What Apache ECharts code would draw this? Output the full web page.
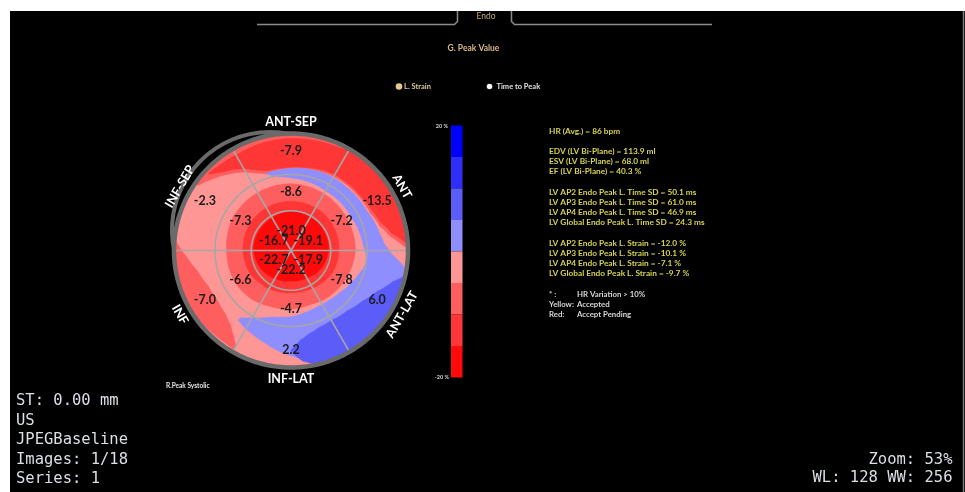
<!DOCTYPE html>
<html>
<head>
<meta charset="utf-8">
<script src="https://cdn.jsdelivr.net/npm/echarts@6/dist/echarts.min.js"></script>
<style>
  html, body { margin: 0; padding: 0; background: #ffffff; }
  #chart { width: 965px; height: 492px; }
</style>
</head>
<body>
<div id="chart"></div>
<script>
// Bull's-eye segments, angles anticlockwise from 3 o'clock (degrees)
const segmentNames = ['ANT-SEP', 'ANT', 'ANT-LAT', 'INF-LAT', 'INF', 'INF-SEP'];
const segmentAngles = [90, 30, 330, 270, 210, 150];

// Peak longitudinal strain per segment (%)
const basalStrain  = [-7.9, -13.5, 6.0, 2.2, -7.0, -2.3];
const midStrain    = [-8.6, -7.2, -7.8, -4.7, -6.6, -7.3];
const apicalStrain = [-21.0, -19.1, -17.9, -22.2, -22.7, -16.7];

// Ring boundaries (% of map radius) and segment spokes (degrees)
const ringBounds = [34, 65];
const spokeAngles = [0, 60, 120, 180, 240, 300];

// Strain colour scale, top to bottom
const scaleBins = [
  { min: 15, max: 20, color: '#0000ff' },
  { min: 10, max: 15, color: '#2e2ef8' },
  { min: 5, max: 10, color: '#5c5cf8' },
  { min: 0, max: 5, color: '#8e8eff' },
  { min: -5, max: 0, color: '#ff9696' },
  { min: -10, max: -5, color: '#ff5e5e' },
  { min: -15, max: -10, color: '#ff3636' },
  { min: -20, max: -15, color: '#ff0a0a' }
];
const scaleTicks = ['20 %', '-20 %'];

// Strain-field contour bands. Each sample is [angle°, inner radius %, outer radius %];
// bands are painted in order, later bands over earlier ones.
const wholeMap       = [[0, 0, 100], [360, 0, 100]];
const coreSalmon     = [[0,0,55],[30,0,55],[60,0,56],[90,0,57],[120,0,57],[150,0,57],[180,0,55],[210,0,55],
                        [230,0,53.5],[250,0,51],[270,0,50],[290,0,49],[310,0,51],[330,0,52.5],[360,0,55]];
const coreRed        = [[0,0,41],[45,0,42],[90,0,42],[135,0,42],[180,0,41],[210,0,40],[240,0,37.5],
                        [270,0,36],[300,0,37],[330,0,40],[360,0,41]];
const coreDeep       = [[0,0,32],[45,0,33],[90,0,33],[135,0,32],[180,0,32],[210,0,30],[240,0,27.5],
                        [270,0,26],[300,0,27],[330,0,30],[360,0,32]];
const anteriorHalo   = [[2,97,100],[8,86,100],[15,79,100],[25,75,100],[40,74,100],[60,73,100],[80,71,100],
                        [100,69.5,100],[108,69,100],[115,73,100],[122,79,100],[130,85,100],[138,91,100],[145,97,100]];
const anteriorRed    = [[3.5,99,100],[10,87,100],[18,80,100],[28,77,100],[40,75.5,100],[55,75,100],[65,74.5,97],
                        [80,72,96],[95,71,95.5],[106,71,95],[112,74,94.5],[118,79,94],[124,84,94.5],[130,88,95],
                        [134,92,96],[137,95.5,96.5]];
const lateralCrescent = [[108,68.5,69],[104,66,69.5],[100,64,69.5],[90,62,70],[80,61,71],[70,60,71.5],[60,59,72],
                        [50,59,72],[40,59,72.5],[28,59,73],[20,60,75],[11,61,77],[4,62,80],[-2,64,86],[-8,65,97],
                        [-13,64,100],[-20,61,100],[-30,58,100],[-41,55,100],[-53,53.5,100],[-65,53,100],[-78,54.5,96],
                        [-88,56.5,91],[-98,57.5,86],[-106,59,82],[-114,63,79],[-121,67,77],[-127,72,74.5]];
const lateralPatch   = [[-13,99,100],[-17,91,100],[-26,81,100],[-35,75,100],[-47,70.5,100],[-60,69,100],
                        [-70,70,100],[-78,73,99],[-84,77,95],[-88,82,89],[-90,85,86]];
const inferiorStripe = [[176,98,100],[183,90,100],[192,82,100],[203,77,100],[214,76,98.5],[224,78,97.5],
                        [231,82,97],[236,88,97],[240,94,97.5]];
const fieldBands = [
  [-2.5, wholeMap], [-7.5, coreSalmon], [-12.5, coreRed], [-17.5, coreDeep],
  [-7.5, anteriorHalo], [-12.5, anteriorRed], [2.5, lateralCrescent], [7.5, lateralPatch],
  [-7.5, inferiorStripe]
];

// Measurement summary (blank entries are spacer lines)
const summaryLines = [
  'HR (Avg.) = 86 bpm', '',
  'EDV (LV Bi-Plane) = 113.9 ml',
  'ESV (LV Bi-Plane) = 68.0 ml',
  'EF (LV Bi-Plane) = 40.3 %', '',
  'LV AP2 Endo Peak L. Time SD = 50.1 ms',
  'LV AP3 Endo Peak L. Time SD = 61.0 ms',
  'LV AP4 Endo Peak L. Time SD = 46.9 ms',
  'LV Global Endo Peak L. Time SD = 24.3 ms', '',
  'LV AP2 Endo Peak L. Strain = -12.0 %',
  'LV AP3 Endo Peak L. Strain = -10.1 %',
  'LV AP4 Endo Peak L. Strain = -7.1 %',
  'LV Global Endo Peak L. Strain = -9.7 %'
];
const legendNotes = [['* :', 'HR Variation > 10%'], ['Yellow:', 'Accepted'], ['Red:', 'Accept Pending']];
const viewerInfoLeft = ['ST: 0.00 mm', 'US', 'JPEGBaseline', 'Images: 1/18', 'Series: 1'];
const viewerInfoRight = ['Zoom: 53%', 'WL: 128 WW: 256'];

// ---------- build series data ----------
const fieldItems = fieldBands.map(function (band, idx) { return [0, 0, idx, band[0]]; });

const LABEL_R = { apical: 17, mid: 50, basal: 85, name: 109.5 };
const valueItems = [];
[[apicalStrain, LABEL_R.apical], [midStrain, LABEL_R.mid], [basalStrain, LABEL_R.basal]].forEach(function (ring) {
  ring[0].forEach(function (v, k) { valueItems.push([ring[1], segmentAngles[k], v]); });
});
const nameItems = segmentAngles.map(function (a) { return [LABEL_R.name, a]; });

const UI_FONT = 'Lato, "Open Sans", sans-serif';
const MONO_FONT = '"DejaVu Sans Mono", "Liberation Mono", monospace';

function arcPoints(api, r, a0, a1) {
  const pts = [];
  const step = a1 >= a0 ? 1 : -1;
  for (let a = a0; step > 0 ? a <= a1 : a >= a1; a += step) pts.push(api.coord([r, a]));
  return pts;
}

// Trace a band outline through the polar axes, walking the contour in 1° steps
function traceBand(api, contour) {
  const outer = [], inner = [];
  for (let k = 0; k < contour.length - 1; k++) {
    const p = contour[k], q = contour[k + 1];
    const n = Math.max(1, Math.ceil(Math.abs(q[0] - p[0])));
    for (let s = 0; s < n; s++) {
      const t = s / n, a = p[0] + (q[0] - p[0]) * t;
      outer.push(api.coord([p[2] + (q[2] - p[2]) * t, a]));
      inner.push(api.coord([p[1] + (q[1] - p[1]) * t, a]));
    }
  }
  const last = contour[contour.length - 1];
  outer.push(api.coord([last[2], last[0]]));
  inner.push(api.coord([last[1], last[0]]));
  return outer.concat(inner.reverse());
}

function renderFieldBand(params, api) {
  const contour = fieldBands[api.value(2)][1];
  const c = api.visual('color');
  return { type: 'polygon', shape: { points: traceBand(api, contour) },
           style: { fill: c, stroke: c, lineWidth: 0.6 } };
}

function renderRing(params, api) {
  return { type: 'polyline', shape: { points: arcPoints(api, api.value(0), 0, 360) },
           style: { stroke: '#a6a6a6', lineWidth: 1.6, fill: null } };
}

function renderSpoke(params, api) {
  const a = api.value(1);
  const p0 = api.coord([0, a]), p1 = api.coord([api.value(0), a]);
  return { type: 'line', shape: { x1: p0[0], y1: p0[1], x2: p1[0], y2: p1[1] },
           style: { stroke: '#a6a6a6', lineWidth: 1.6 } };
}

function renderBorder(params, api) {
  return { type: 'polyline', shape: { points: arcPoints(api, api.value(0), 0, 360) },
           style: { stroke: '#6a6a6a', lineWidth: 4.5, fill: null } };
}

function renderValue(params, api) {
  const p = api.coord([api.value(0), api.value(1)]);
  return { type: 'text', x: p[0], y: p[1],
    style: { text: api.value(2).toFixed(1), font: 'bold 12.5px ' + UI_FONT, fill: '#1c1c1c',
             align: 'center', verticalAlign: 'middle', textAlign: 'center', textVerticalAlign: 'middle' } };
}

function renderName(params, api) {
  const a = api.value(1);
  const p = api.coord([api.value(0), a]);
  const rot = (a > 0 && a < 180 ? a - 90 : a - 270) * Math.PI / 180;
  return { type: 'text', x: p[0], y: p[1], rotation: rot,
    style: { text: segmentNames[params.dataIndex], font: 'bold 12.5px ' + UI_FONT, fill: '#ffffff',
             align: 'center', verticalAlign: 'middle', textAlign: 'center', textVerticalAlign: 'middle' } };
}

// ---------- static panel decoration ----------
function txt(x, y, text, font, fill, align) {
  return { type: 'text', x: x, y: y, z: 10,
    style: { text: text, font: font, fill: fill, align: align || 'left', verticalAlign: 'middle',
             textAlign: align || 'left', textVerticalAlign: 'middle' } };
}

const graphics = [
  { type: 'rect', z: -20, shape: { x: 10, y: 11, width: 955, height: 481 }, style: { fill: '#000000' } },
  { type: 'line', z: -10, shape: { x1: 963.5, y1: 11, x2: 963.5, y2: 492 }, style: { stroke: '#7a7a7a', lineWidth: 1.5 } },
  { type: 'polyline', z: -10, shape: { points: [[257, 24.5], [454.5, 24.5], [457.5, 21.5], [457.5, 11]] },
    style: { stroke: '#8c8c8c', lineWidth: 1.5, fill: null } },
  { type: 'polyline', z: -10, shape: { points: [[511.5, 11], [511.5, 21.5], [514.5, 24.5], [712, 24.5]] },
    style: { stroke: '#8c8c8c', lineWidth: 1.5, fill: null } },
  txt(486, 16, 'Endo', '8.5px ' + UI_FONT, '#c4a878', 'center'),
  txt(473.5, 48, 'G. Peak Value', 'bold 8.5px ' + UI_FONT, '#d6b77c', 'center'),
  { type: 'circle', z: 10, shape: { cx: 399, cy: 86.5, r: 3.3 }, style: { fill: '#e8c88c' } },
  txt(404, 87, 'L. Strain', 'bold 7.5px ' + UI_FONT, '#d9c9a3'),
  { type: 'circle', z: 10, shape: { cx: 489.5, cy: 86.5, r: 2.8 }, style: { fill: '#ffffff' } },
  txt(496.5, 87, 'Time to Peak', 'bold 7.5px ' + UI_FONT, '#e2e2e2'),
  txt(448, 126, scaleTicks[0], 'bold 5.5px ' + UI_FONT, '#cfcfcf', 'right'),
  txt(449, 377.5, scaleTicks[1], 'bold 5.5px ' + UI_FONT, '#cfcfcf', 'right'),
  txt(166, 386, 'R.Peak Systolic', 'bold 6.5px ' + UI_FONT, '#e6e6e6'),
  // extra outline arc on the septal side
  { type: 'arc', z: 5, shape: { cx: 270, cy: 230, r: 98, startAngle: -192 * Math.PI / 180, endAngle: -78 * Math.PI / 180, clockwise: true },
    style: { stroke: '#6a6a6a', lineWidth: 4, fill: null } }
];
summaryLines.forEach(function (line, i) {
  if (line) graphics.push(txt(549, 131 + i * 10.2, line, 'bold 8.3px ' + UI_FONT, '#d6d24c'));
});
legendNotes.forEach(function (pair, i) {
  graphics.push(txt(549, 294 + i * 10.1, pair[0], 'bold 7.8px ' + UI_FONT, '#d6d6d6'));
  graphics.push(txt(577, 294 + i * 10.1, pair[1], 'bold 7.8px ' + UI_FONT, '#d6d6d6'));
});
viewerInfoLeft.forEach(function (line, i) {
  graphics.push(txt(16, 401 + i * 19.6, line, '15.5px ' + MONO_FONT, '#dcdfe6'));
});
viewerInfoRight.forEach(function (line, i) {
  graphics.push(txt(952.5, 460 + i * 18, line, '15.5px ' + MONO_FONT, '#dcdfe6', 'right'));
});

const chart = echarts.init(document.getElementById('chart'), null, { renderer: 'canvas' });
chart.setOption({
  backgroundColor: '#ffffff',
  animation: false,
  polar: { center: [291, 250.5], radius: 117 },
  angleAxis: { type: 'value', min: 0, max: 360, startAngle: 0, clockwise: false,
    axisLine: { show: false }, axisTick: { show: false }, axisLabel: { show: false }, splitLine: { show: false } },
  radiusAxis: { type: 'value', min: 0, max: 100,
    axisLine: { show: false }, axisTick: { show: false }, axisLabel: { show: false }, splitLine: { show: false } },
  visualMap: {
    type: 'piecewise', seriesIndex: 0, dimension: 3,
    pieces: scaleBins, orient: 'vertical',
    left: 451, top: 125.5, itemWidth: 11.5, itemHeight: 31.5, itemGap: 0,
    itemSymbol: 'rect', showLabel: false, selectedMode: false, padding: 0, textGap: 0,
    hoverLink: false
  },
  graphic: { elements: graphics },
  series: [
    { type: 'custom', coordinateSystem: 'polar', silent: true, z: 2, encode: { radius: 0, angle: 1 },
      renderItem: renderFieldBand, data: fieldItems },
    { type: 'custom', coordinateSystem: 'polar', silent: true, z: 3, renderItem: renderRing,
      data: ringBounds.map(function (r) { return [r, 0]; }) },
    { type: 'custom', coordinateSystem: 'polar', silent: true, z: 3, renderItem: renderSpoke,
      data: spokeAngles.map(function (a) { return [100, a]; }) },
    { type: 'custom', coordinateSystem: 'polar', silent: true, z: 4, renderItem: renderBorder,
      data: [[100, 0]] },
    { type: 'custom', coordinateSystem: 'polar', silent: true, z: 6, renderItem: renderValue,
      data: valueItems },
    { type: 'custom', coordinateSystem: 'polar', silent: true, z: 6, renderItem: renderName,
      data: nameItems }
  ]
});
</script>
</body>
</html>
